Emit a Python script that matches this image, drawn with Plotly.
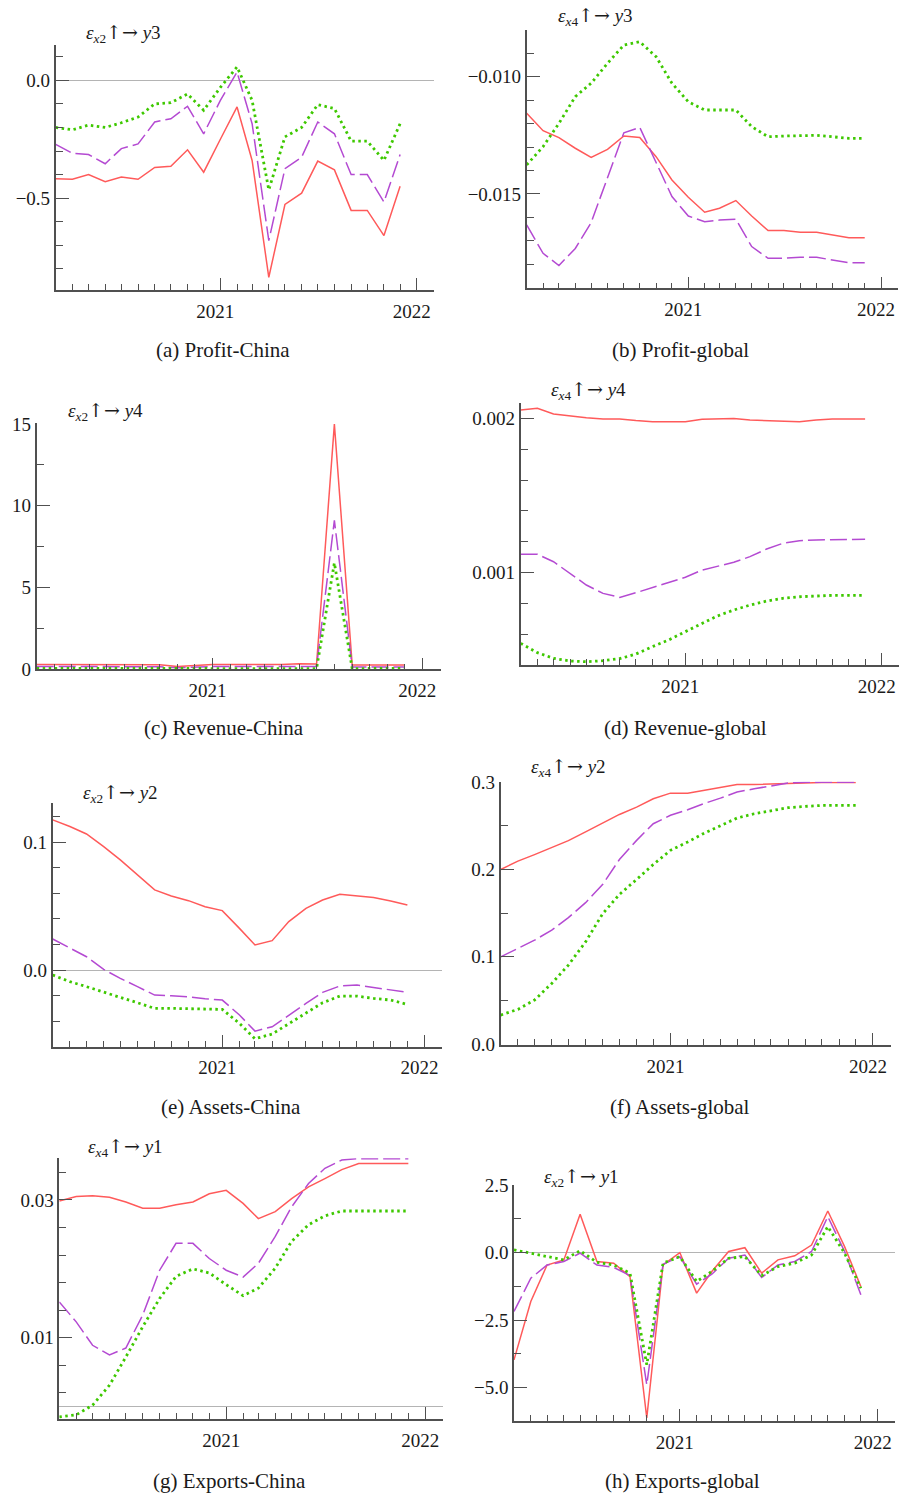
import plotly.graph_objects as go

W, H = 900, 1497

MONTHS = ["2020-03-01", "2020-04-01", "2020-05-01", "2020-06-01", "2020-07-01",
          "2020-08-01", "2020-09-01", "2020-10-01", "2020-11-01", "2020-12-01",
          "2021-01-01", "2021-02-01", "2021-03-01", "2021-04-01", "2021-05-01",
          "2021-06-01", "2021-07-01", "2021-08-01", "2021-09-01", "2021-10-01",
          "2021-11-01", "2021-12-01"]

# (a) Profit-China
A_RED = [-0.418, -0.42, -0.40, -0.43, -0.41, -0.42, -0.37, -0.365, -0.295, -0.39, -0.25,
         -0.113, -0.34, -0.836, -0.527, -0.479, -0.343, -0.38, -0.552, -0.552, -0.659, -0.45]
A_MAG = [-0.272, -0.31, -0.315, -0.354, -0.29, -0.27, -0.177, -0.163, -0.11, -0.227, -0.085,
         0.035, -0.184, -0.68, -0.375, -0.326, -0.177, -0.227, -0.40, -0.40, -0.517, -0.315]
A_GRN = [-0.20, -0.21, -0.19, -0.20, -0.18, -0.156, -0.10, -0.095, -0.058, -0.127, -0.03,
         0.057, -0.085, -0.465, -0.24, -0.20, -0.103, -0.12, -0.258, -0.258, -0.34, -0.184]

# (b) Profit-global
B_RED = [-0.01156, -0.0123, -0.0126, -0.01305, -0.01344, -0.0131, -0.01253, -0.01259, -0.01341,
         -0.0144, -0.01514, -0.01578, -0.01561, -0.01528, -0.01594, -0.01656, -0.01656, -0.01663,
         -0.01663, -0.01675, -0.01686, -0.01686]
B_MAG = [-0.01632, -0.01753, -0.01805, -0.01732, -0.01622, -0.01426, -0.01239, -0.01216, -0.01369,
         -0.01511, -0.01594, -0.01618, -0.01611, -0.01608, -0.01724, -0.01774, -0.01774, -0.0177,
         -0.0177, -0.01781, -0.01793, -0.01793]
B_GRN = [-0.01376, -0.01298, -0.01199, -0.01085, -0.01028, -0.00943, -0.00865, -0.00851, -0.00915,
         -0.01028, -0.01107, -0.01142, -0.01142, -0.01142, -0.01213, -0.01256, -0.01253, -0.0125,
         -0.0125, -0.01256, -0.01263, -0.01263]

# (c) Revenue-China
C_RED = [0.28, 0.28, 0.28, 0.27, 0.27, 0.27, 0.26, 0.26, 0.15, 0.22, 0.27, 0.27, 0.27, 0.27,
         0.28, 0.32, 0.30, 15.0, 0.25, 0.25, 0.25, 0.25]
C_MAG = [0.15, 0.15, 0.15, 0.15, 0.15, 0.15, 0.14, 0.14, 0.08, 0.12, 0.15, 0.15, 0.15, 0.15,
         0.15, 0.18, 0.15, 9.1, 0.12, 0.12, 0.12, 0.12]
C_GRN = [0.04, 0.04, 0.04, 0.04, 0.04, 0.04, 0.04, 0.04, 0.02, 0.03, 0.04, 0.04, 0.04, 0.04,
         0.04, 0.05, 0.02, 6.5, 0.02, 0.03, 0.03, 0.03]

# (d) Revenue-global
D_RED = [0.002054, 0.002065, 0.002028, 0.002015, 0.002004, 0.001996, 0.001996, 0.001985,
         0.001978, 0.001978, 0.001978, 0.001994, 0.001998, 0.001998, 0.001989, 0.001985,
         0.001978, 0.001978, 0.001989, 0.001996, 0.001996, 0.001996]
D_MAG = [0.001119, 0.001119, 0.001071, 0.000996, 0.00092, 0.000866, 0.00084, 0.00087,
         0.000905, 0.000937, 0.00097, 0.001017, 0.001043, 0.001067, 0.001104, 0.001153,
         0.00119, 0.001207, 0.001212, 0.001212, 0.001216, 0.001216]
D_GRN = [0.000542, 0.000482, 0.000445, 0.000428, 0.000423, 0.00043, 0.000443, 0.000473,
         0.000521, 0.000564, 0.000618, 0.000672, 0.000719, 0.000758, 0.00079, 0.000816,
         0.000834, 0.000844, 0.000851, 0.000853, 0.000853, 0.000853]

# (e) Assets-China
E_RED = [0.1175, 0.1123, 0.1065, 0.0966, 0.0862, 0.0744, 0.0627, 0.058, 0.0543, 0.0496, 0.0465,
         0.0326, 0.0196, 0.023, 0.0379, 0.0483, 0.0548, 0.0593, 0.058, 0.0567, 0.054, 0.0509]
E_MAG = [0.0243, 0.017, 0.0104, 0.0005, -0.0065, -0.013, -0.0196, -0.0201, -0.0209, -0.0225,
         -0.0235, -0.0352, -0.0478, -0.0444, -0.0352, -0.0261, -0.0175, -0.0125, -0.0117,
         -0.0136, -0.0157, -0.0175]
E_GRN = [-0.0039, -0.0091, -0.013, -0.017, -0.0214, -0.0256, -0.03, -0.03, -0.0303, -0.0303,
         -0.0308, -0.0418, -0.0538, -0.0501, -0.0418, -0.0332, -0.0256, -0.0204, -0.0204,
         -0.0222, -0.0235, -0.0269]

# (f) Assets-global
F_RED = [0.2, 0.2095, 0.217, 0.2255, 0.233, 0.243, 0.2531, 0.263, 0.2714, 0.281, 0.2874,
         0.2874, 0.2905, 0.2943, 0.2973, 0.2973, 0.298, 0.2989, 0.2996, 0.2996, 0.2996, 0.2996]
F_MAG = [0.1, 0.1095, 0.119, 0.1305, 0.1448, 0.162, 0.183, 0.2114, 0.2333, 0.2524, 0.262,
         0.2684, 0.2752, 0.2817, 0.2886, 0.2924, 0.296, 0.2989, 0.3, 0.3, 0.3, 0.3]
F_GRN = [0.0333, 0.0398, 0.0505, 0.0695, 0.0905, 0.1171, 0.1495, 0.1714, 0.1886, 0.2057, 0.2219,
         0.2314, 0.241, 0.2505, 0.2589, 0.2638, 0.2676, 0.2707, 0.2722, 0.2733, 0.2733, 0.2733]

# (g) Exports-China
G_RED = [0.02985, 0.0305, 0.0306, 0.0304, 0.0297, 0.0288, 0.0288, 0.0293, 0.0297, 0.0309, 0.0314,
         0.0295, 0.0273, 0.0283, 0.0302, 0.0319, 0.0331, 0.0344, 0.0353, 0.0353, 0.0353, 0.0353]
G_MAG = [0.0152, 0.0123, 0.0089, 0.0075, 0.0085, 0.0133, 0.0198, 0.0237, 0.0237, 0.0215, 0.0198,
         0.0188, 0.0208, 0.0247, 0.029, 0.0324, 0.0346, 0.0358, 0.036, 0.036, 0.036, 0.036]
G_GRN = [-0.0015, -0.0012, 0.0002, 0.0031, 0.0072, 0.0116, 0.0157, 0.0189, 0.02, 0.0194, 0.0177,
         0.0161, 0.0172, 0.0201, 0.024, 0.0264, 0.0277, 0.0284, 0.0284, 0.0284, 0.0284, 0.0284]

# (h) Exports-global
H_RED = [-3.97, -1.81, -0.46, -0.27, 1.42, -0.33, -0.39, -0.89, -6.12, -0.46, 0.0, -1.5, -0.7,
         0.04, 0.18, -0.76, -0.27, -0.12, 0.28, 1.54, 0.22, -1.26]
H_MAG = [-2.18, -0.95, -0.46, -0.33, -0.02, -0.46, -0.55, -0.85, -4.89, -0.43, -0.15, -1.17,
         -0.8, -0.21, -0.09, -0.92, -0.46, -0.33, 0.04, 1.33, 0.04, -1.56]
H_GRN = [0.1, -0.02, -0.15, -0.27, 0.07, -0.36, -0.46, -0.76, -4.15, -0.39, -0.15, -1.07, -0.7,
         -0.21, -0.15, -0.85, -0.52, -0.39, -0.09, 0.96, -0.02, -1.32]

CAPTIONS = ["(a) Profit-China", "(b) Profit-global", "(c) Revenue-China", "(d) Revenue-global",
            "(e) Assets-China", "(f) Assets-global", "(g) Exports-China", "(h) Exports-global"]
SHOCK_LABELS = [("x2", "y3"), ("x4", "y3"), ("x2", "y4"), ("x4", "y4"),
                ("x2", "y2"), ("x4", "y2"), ("x4", "y1"), ("x2", "y1")]

RED = "#ff5a5a"
MAG = "#b44ad2"
GRN = "#3ec800"
AX = "#505050"
FONT = "Liberation Serif"

panels = [
    dict(d=(A_RED, A_MAG, A_GRN), px=(55.7, 434), py=(45, 290), yr=[-0.89, 0.15],
         ticks=dict(dtick=0.5, tick0=0), minor=dict(dtick=0.1, tick0=0), fmt=".1f", zero=True,
         cap=(223, 350), ann=(84, 33)),
    dict(d=(B_RED, B_MAG, B_GRN), px=(526.7, 898), py=(30, 288.3), yr=[-0.01902, -0.00801],
         ticks=dict(dtick=0.005, tick0=0), minor=dict(dtick=0.001, tick0=0), fmt=".3f", zero=False,
         cap=(680, 350), ann=(556, 17)),
    dict(d=(C_RED, C_MAG, C_GRN), px=(36.7, 440.7), py=(423.3, 669.3), yr=[-0.02, 15.05],
         ticks=dict(dtick=5, tick0=0), minor=dict(dtick=2.5, tick0=0), fmt="d", zero=False,
         cap=(224, 728), ann=(66, 412)),
    dict(d=(D_RED, D_MAG, D_GRN), px=(520.7, 899), py=(403.3, 665), yr=[0.000402, 0.002097],
         ticks=dict(dtick=0.001, tick0=0), minor=dict(dtick=0.0002, tick0=0), fmt=".3f", zero=False,
         cap=(685, 728), ann=(549, 390)),
    dict(d=(E_RED, E_MAG, E_GRN), px=(52.7, 442.3), py=(803.3, 1046.7), yr=[-0.06, 0.1305],
         ticks=dict(dtick=0.1, tick0=0), minor=dict(dtick=0.02, tick0=0), fmt=".1f", zero=True,
         cap=(231, 1107), ann=(81, 793)),
    dict(d=(F_RED, F_MAG, F_GRN), px=(500.7, 890.7), py=(781.7, 1045), yr=[-0.001, 0.3005],
         ticks=dict(dtick=0.1, tick0=0), minor=dict(dtick=0.05, tick0=0), fmt=".1f", zero=False,
         cap=(680, 1107), ann=(529, 768)),
    dict(d=(G_RED, G_MAG, G_GRN), px=(59.3, 442.7), py=(1158.3, 1419), yr=[-0.0018, 0.03605],
         ticks=dict(tickmode="array", tickvals=[0.01, 0.03]),
         minor=dict(tickmode="array", tickvals=[0.002, 0.006, 0.014, 0.018, 0.022, 0.026, 0.034]),
         fmt=".2f", zero=True, cap=(230, 1481), ann=(86, 1147)),
    dict(d=(H_RED, H_MAG, H_GRN), px=(514, 895), py=(1185, 1421), yr=[-6.23, 2.5],
         ticks=dict(dtick=2.5, tick0=0), minor=dict(dtick=1.25, tick0=0), fmt=".1f", zero=True,
         cap=(682, 1481), ann=(542, 1177)),
]

fig = go.Figure()
layout = dict(width=W, height=H, margin=dict(l=0, r=0, t=0, b=0),
              paper_bgcolor="white", plot_bgcolor="white", showlegend=False,
              font=dict(family=FONT, size=19, color="#1a1a1a"))
annotations = []

for i, p in enumerate(panels):
    n = i + 1
    xa = "x" if n == 1 else f"x{n}"
    ya = "y" if n == 1 else f"y{n}"
    xkey = "xaxis" if n == 1 else f"xaxis{n}"
    ykey = "yaxis" if n == 1 else f"yaxis{n}"
    red, mag, grn = p["d"]
    fig.add_trace(go.Scatter(x=MONTHS, y=red, mode="lines", xaxis=xa, yaxis=ya,
                             line=dict(color=RED, width=1.5)))
    fig.add_trace(go.Scatter(x=MONTHS, y=mag, mode="lines", xaxis=xa, yaxis=ya,
                             line=dict(color=MAG, width=1.5, dash="17px,5px")))
    fig.add_trace(go.Scatter(x=MONTHS, y=grn, mode="lines", xaxis=xa, yaxis=ya,
                             line=dict(color=GRN, width=2.8, dash="2.5px,3.5px")))
    x0, x1 = p["px"]
    y0, y1 = p["py"]
    layout[xkey] = dict(
        domain=[x0 / W, x1 / W], anchor=ya, type="date",
        range=["2020-03-01", "2022-02-02"],
        showline=True, linecolor=AX, linewidth=1.6, showgrid=False, zeroline=False,
        ticks="inside", ticklen=12, tickwidth=1.4, tickcolor=AX,
        tickmode="linear", tick0="2021-01-01", dtick="M12", tickformat="%Y",
        ticklabelstandoff=3, ticklabelshift=-5, ticklabeloverflow="allow",
        minor=dict(ticks="inside", ticklen=6, tickwidth=1.3, tickcolor=AX,
                   dtick="M1", tick0="2020-01-01", showgrid=False),
        automargin=False, fixedrange=True,
    )
    yax = dict(
        domain=[1 - y1 / H, 1 - y0 / H], anchor=xa, range=p["yr"],
        showline=True, linecolor=AX, linewidth=1.6, showgrid=False,
        zeroline=p["zero"], zerolinecolor="#b4b4b4", zerolinewidth=1.3,
        ticks="inside", ticklen=13, tickwidth=1.4, tickcolor=AX,
        tickformat=p["fmt"], automargin=False, fixedrange=True,
        minor=dict(ticks="inside", ticklen=7, tickwidth=1.3, tickcolor=AX, showgrid=False,
                   **p["minor"]),
    )
    tk = dict(p["ticks"])
    if "tickmode" not in tk:
        tk["tickmode"] = "linear"
    yax.update(tk)
    layout[ykey] = yax

    cx, cy = p["cap"]
    annotations.append(dict(x=cx / W, y=1 - cy / H, xref="paper", yref="paper",
                            text=CAPTIONS[i], showarrow=False, xanchor="center",
                            yanchor="middle", font=dict(family=FONT, size=21, color="#1a1a1a")))
    ax_, ay_ = p["ann"]
    s, r = SHOCK_LABELS[i]
    txt = (f"<i>ε</i><sub><i>{s[0]}</i>{s[1]}</sub>"
           f"<span style='font-family:DejaVu Serif'>↑→</span> <i>{r[0]}</i>{r[1]}")
    annotations.append(dict(x=ax_ / W, y=1 - ay_ / H, xref="paper", yref="paper",
                            text=txt, showarrow=False, xanchor="left", yanchor="middle",
                            font=dict(family=FONT, size=19, color="#1a1a1a")))

layout["annotations"] = annotations
fig.update_layout(**layout)
fig.write_html("out.html", config={"displayModeBar": False},
               post_script="document.body.style.margin='0';document.body.style.padding='0';")
